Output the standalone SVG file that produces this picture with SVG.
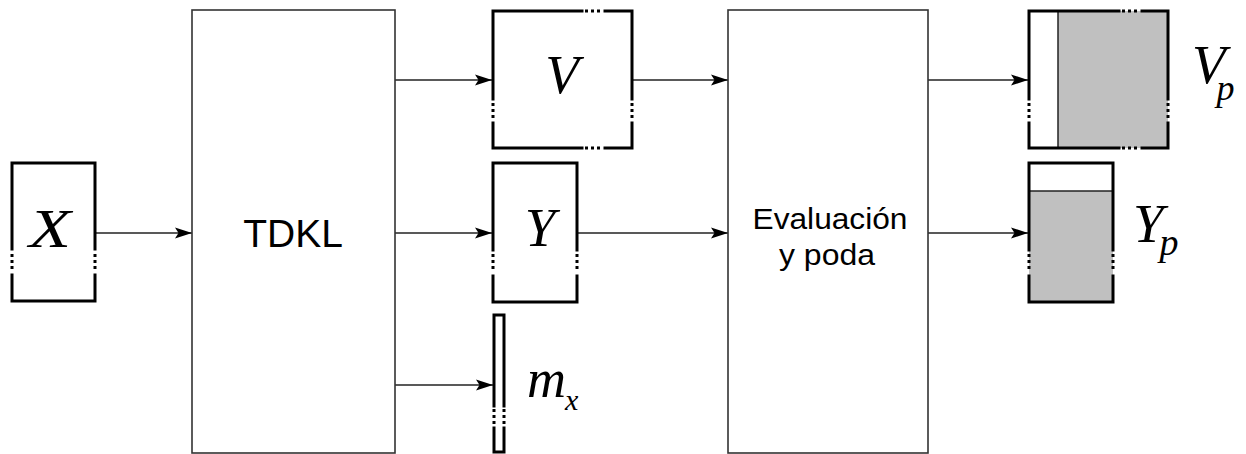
<svg xmlns="http://www.w3.org/2000/svg" width="1246" height="454" viewBox="0 0 1246 454">
<defs>
<style>
.frame{fill:none;stroke:#000;stroke-width:3;stroke-linejoin:miter;stroke-linecap:square}
.dots{fill:none;stroke:#000;stroke-width:3;stroke-dasharray:3 3}
.big{fill:#fff;stroke:#333;stroke-width:1.6}
.conn{fill:none;stroke:#222;stroke-width:1.5}
.sans{font-family:"Liberation Sans",Arial,sans-serif;fill:#000;text-anchor:middle}
.math{font-family:"Liberation Serif","Times New Roman",serif;font-style:italic;fill:#000}
.thin{fill:none;stroke:#222;stroke-width:1.5}
</style>
<marker id="ah" markerUnits="userSpaceOnUse" markerWidth="20" markerHeight="14" refX="17" refY="7" orient="auto">
<path d="M0,1.5 L17,7 L0,12.5 L3.5,7 Z" fill="#000"/>
</marker>
</defs>
<rect width="1246" height="454" fill="#fff"/>

<g id="connectors">
<line class="conn" x1="95" y1="233" x2="192" y2="233" marker-end="url(#ah)"/>
<line class="conn" x1="395" y1="80" x2="492" y2="80" marker-end="url(#ah)"/>
<line class="conn" x1="395" y1="233" x2="492" y2="233" marker-end="url(#ah)"/>
<line class="conn" x1="395" y1="385" x2="493" y2="385" marker-end="url(#ah)"/>
<line class="conn" x1="632" y1="80" x2="728" y2="80" marker-end="url(#ah)"/>
<line class="conn" x1="577" y1="233" x2="728" y2="233" marker-end="url(#ah)"/>
<line class="conn" x1="928" y1="80" x2="1028" y2="80" marker-end="url(#ah)"/>
<line class="conn" x1="928" y1="233" x2="1028" y2="233" marker-end="url(#ah)"/>
</g>

<g id="node-X">
<path class="frame" d="M12,249 V163 H95 V249 M12,275 V301 H95 V275"/>
<path class="dots" d="M12,254 V269 M95,254 V269"/>
<text class="math" x="29" y="247" font-size="55" textLength="42" lengthAdjust="spacingAndGlyphs">X</text>
</g>

<g id="node-TDKL">
<rect class="big" x="192" y="10" width="203" height="443"/>
<text class="sans" x="293" y="247" font-size="39">TDKL</text>
</g>

<g id="node-V">
<path class="frame" d="M493,99 V11 H582 M605,11 H632 V99 M632,123 V148 H605 M582,148 H493 V123"/>
<path class="dots" d="M493,103 V118 M632,103 V118 M585,11 H600 M585,148 H600"/>
<text class="math" x="562" y="93" font-size="55" text-anchor="middle">V</text>
</g>

<g id="node-Y">
<path class="frame" d="M493,250 V163 H577 V250 M493,276 V302 H577 V276"/>
<path class="dots" d="M493,254 V269 M577,254 V269"/>
<text class="math" x="540" y="246" font-size="55" text-anchor="middle">Y</text>
</g>

<g id="node-mx">
<path class="frame" d="M494,406 V315 H504 V406 M494,428 V452 H504 V428"/>
<path class="dots" d="M494,409 V424 M504,409 V424"/>
<text class="math" x="527" y="397" font-size="54">m<tspan font-size="30" dx="-1" dy="13">x</tspan></text>
</g>

<g id="node-eval">
<rect class="big" x="728" y="10" width="200" height="443"/>
<text class="sans" x="830" y="229" font-size="29" textLength="155" lengthAdjust="spacingAndGlyphs">Evaluación</text>
<text class="sans" x="827" y="265" font-size="29" textLength="96" lengthAdjust="spacingAndGlyphs">y poda</text>
</g>

<g id="node-Vp">
<rect x="1029" y="11" width="29" height="137" fill="#fff"/>
<rect x="1058" y="11" width="110" height="137" fill="#c0c0c0"/>
<line class="thin" x1="1058" y1="11" x2="1058" y2="148"/>
<path class="frame" d="M1029,99 V11 H1119 M1142,11 H1168 V99 M1168,123 V148 H1142 M1119,148 H1029 V123"/>
<path class="dots" d="M1029,103 V118 M1168,103 V118 M1122,11 H1137 M1122,148 H1137"/>
<text class="math" x="1192" y="83" font-size="55">V<tspan font-size="36" dx="-9" dy="17">p</tspan></text>
</g>

<g id="node-Yp">
<rect x="1029" y="163" width="84" height="28" fill="#fff"/>
<rect x="1029" y="191" width="84" height="111" fill="#c0c0c0"/>
<line class="thin" x1="1029" y1="191" x2="1113" y2="191"/>
<path class="frame" d="M1029,250 V163 H1113 V250 M1029,276 V302 H1113 V276"/>
<path class="dots" d="M1029,254 V269 M1113,254 V269"/>
<text class="math" x="1133" y="242" font-size="55">Y<tspan font-size="38" dx="-4" dy="13">p</tspan></text>
</g>
</svg>
